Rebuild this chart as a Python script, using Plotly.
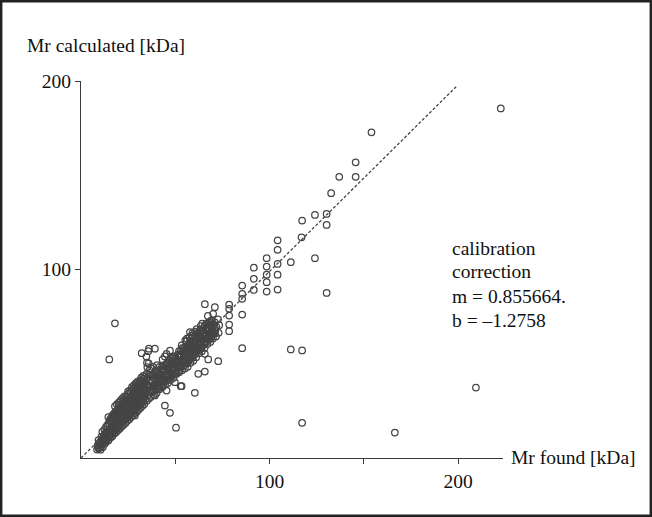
import plotly.graph_objects as go

# ---- data (Mr found, Mr calculated) in kDa ----
band_low_x = [8.5, 8.9, 9.4, 9.8, 9.3, 10.4, 10.7, 10.1, 10.9, 11.6, 11.2, 11.8, 11.3, 12.6, 12.2, 12.9, 12.4,
              13.6, 13.1, 13.9, 13.3, 14.6, 14.2, 14.9, 14.3, 14.5, 15.7, 15.2, 15.9, 15.1, 15.6, 16.6, 16.1,
              16.9, 16.3, 16.7, 17.6, 17.2, 17.9, 17.1, 17.7, 18.6, 18.1, 18.9, 18.3, 18.7, 18.0, 19.6, 19.1,
              19.9, 19.3, 19.7, 19.0, 20.6, 20.1, 20.9, 20.3, 20.7, 20.0, 13.0, 16.0, 19.0]
band_low_y = [4.5, 6.8, 5.0, 7.9, 9.5, 4.4, 6.1, 8.6, 11.4, 5.8, 8.9, 10.6, 13.9, 7.6, 9.7, 12.6, 15.1,
              8.7, 11.6, 13.5, 16.6, 9.4, 12.8, 14.7, 18.0, 21.7, 10.9, 13.4, 15.8, 19.7, 20.9, 11.5, 14.9,
              16.6, 20.6, 22.6, 12.9, 15.6, 17.7, 21.8, 23.7, 13.6, 16.8, 18.9, 22.7, 24.8, 27.4, 14.7, 17.6,
              19.6, 23.8, 25.7, 28.5, 15.6, 18.7, 20.8, 24.7, 26.6, 29.4, 10.4, 18.6, 21.4]

fill_low_x = [9.0, 10.0, 11.0, 11.0, 12.0, 12.0, 13.0, 13.0, 14.0, 14.0, 14.0, 15.0, 15.0, 15.0, 16.0, 16.0,
              16.0, 17.0, 17.0, 17.0, 17.0, 18.0, 18.0, 18.0, 18.0, 19.0, 19.0, 19.0, 19.0, 20.0, 20.0, 20.0,
              20.0, 20.0]
fill_low_y = [5.8, 5.4, 7.4, 9.9, 8.4, 11.7, 9.3, 13.4, 10.4, 14.0, 16.9, 11.6, 15.0, 18.1, 12.4, 16.2,
              19.6, 13.6, 17.0, 20.4, 22.9, 14.7, 18.0, 21.0, 24.2, 15.6, 19.5, 22.4, 25.0, 16.6, 20.0, 23.0,
              26.0, 28.0]

band_mid_x = [21.6, 21.1, 21.9, 21.3, 21.7, 21.0, 22.6, 22.1, 22.9, 22.3, 22.7, 22.0, 23.6, 23.1, 23.9, 23.3,
              23.7, 23.0, 24.6, 24.1, 24.9, 24.3, 24.7, 24.1, 25.6, 25.1, 25.9, 25.3, 25.7, 25.0, 26.6, 26.1,
              26.9, 26.3, 26.7, 26.0, 27.6, 27.1, 27.9, 27.3, 27.7, 27.0, 28.5, 28.6, 28.1, 28.9, 28.3, 28.7,
              28.0, 29.6, 29.1, 29.9, 29.3, 29.7, 29.0, 30.6, 30.1, 30.9, 30.3, 30.7, 30.0, 31.6, 31.1, 31.9,
              31.3, 31.7, 31.3, 32.6, 32.1, 32.9, 32.3, 32.7, 32.0, 33.6, 33.1, 33.9, 33.3, 33.7, 33.0,
              22.4, 24.8, 27.2, 29.4, 31.8, 33.4]
band_mid_y = [16.7, 19.6, 21.7, 25.6, 27.6, 30.6, 17.6, 20.7, 22.8, 26.7, 28.7, 31.6, 18.6, 21.7, 23.6, 27.8,
              29.6, 32.7, 19.7, 22.6, 24.7, 28.6, 30.8, 30.5, 20.6, 23.8, 25.6, 29.7, 31.6, 35.4, 21.7, 24.6,
              26.7, 30.6, 32.7, 35.8, 22.6, 25.7, 27.6, 31.7, 33.6, 37.6, 23.7, 22.6, 26.6, 28.7, 32.6, 34.7,
              38.6, 24.6, 27.7, 29.6, 33.7, 35.6, 39.6, 25.7, 28.6, 30.7, 34.6, 36.7, 40.5, 26.6, 29.7, 31.6,
              35.7, 37.6, 41.1, 27.7, 30.6, 32.7, 36.6, 38.7, 42.6, 28.6, 31.7, 33.6, 37.7, 39.6, 43.6,
              24.9, 26.9, 29.8, 31.2, 33.9, 35.9]

fill_mid_x = [21, 21, 21, 21, 22, 22, 22, 22, 22, 23, 23, 23, 23, 23, 24, 24, 24, 24, 24, 25, 25, 25, 25, 25,
              26, 26, 26, 26, 26, 27, 27, 27, 27, 27, 28, 28, 28, 28, 28, 29, 29, 29, 29, 29, 30, 30, 30, 30, 30,
              31, 31, 31, 31, 31, 32, 32, 32, 32, 32, 33, 33, 33, 33, 33, 34, 34, 34, 34, 34]
fill_mid_y = [18, 21, 24, 27, 19, 22, 25, 28, 30, 20, 23, 26, 29, 31, 21, 24, 27, 30, 32.5, 22, 25, 28, 31, 34,
              23, 26, 29, 32, 34.5, 24, 27, 30, 33, 36, 25, 28, 31, 34, 37, 26, 29, 32, 35, 38, 27, 30, 33, 36, 39,
              28, 31, 34, 37, 40, 29, 32, 35, 38, 41, 30, 33, 36, 39, 42, 31, 34, 37, 40, 43]

stripe_x = [35.0, 35.3, 34.7, 35.2, 35.0, 34.8, 35.2, 35.0, 34.7, 35.7, 36.0, 36.3, 35.8, 36.2, 36.0, 36.3, 35.9, 36.0]
stripe_y = [30.4, 33.1, 36.4, 38.8, 42.3, 44.7, 48.2, 50.6, 53.8, 56.7, 31.6, 34.7, 38.2, 40.6, 44.2, 46.6, 50.2, 58.0]

band_d_x = [37.0, 37.3, 36.8, 37.2, 37.0, 37.3, 38.6, 38.2, 38.8, 38.4, 38.7, 38.2, 39.2, 40.1, 40.3, 39.7, 40.2,
            40.0, 40.3, 41.6, 41.2, 41.8, 41.3, 41.7, 43.1, 43.3, 42.7, 43.2, 43.0, 43.3, 44.6, 44.2, 44.8, 44.3,
            44.7, 45.4, 46.1, 46.3, 45.7, 46.2, 46.0, 47.6, 47.2, 47.8, 47.3, 47.7, 49.1, 49.3, 48.7, 49.2, 49.0,
            49.8, 50.6, 50.2, 50.8, 50.3, 52.1, 52.3, 51.7, 52.2, 52.0, 52.9, 53.6, 53.2, 53.8, 53.3, 53.7, 53.4,
            39.0, 42.2, 45.0, 48.4, 51.0]
band_d_y = [32.4, 35.6, 37.7, 41.3, 43.6, 47.4, 33.6, 36.4, 38.7, 42.4, 44.7, 48.3, 33.2, 34.5, 37.4, 40.6, 43.4,
            46.6, 49.3, 36.5, 38.6, 42.4, 44.6, 48.4, 37.6, 40.4, 42.7, 46.5, 48.6, 52.3, 38.9, 41.5, 43.6, 47.4,
            49.6, 35.8, 39.8, 42.5, 44.6, 48.5, 50.7, 41.5, 43.6, 47.3, 49.7, 53.3, 42.6, 45.4, 47.7, 51.4, 53.6,
            40.2, 44.6, 46.7, 50.4, 52.7, 45.5, 48.4, 50.6, 54.5, 56.7, 38.1, 46.6, 48.7, 52.4, 54.6, 58.3, 59.7,
            38.4, 41.8, 44.3, 46.5, 49.2]

fill_d_x = [38, 38, 38, 38, 39.5, 39.5, 39.5, 39.5, 41, 41, 41, 41, 42.5, 42.5, 42.5, 42.5, 44, 44, 44, 44,
            45.5, 45.5, 45.5, 45.5, 47, 47, 47, 47, 48.5, 48.5, 48.5, 48.5, 50, 50, 50, 50, 51.5, 51.5, 51.5, 51.5,
            53, 53, 53, 53, 54.5, 54.5, 54.5, 54.5]
fill_d_y = [35, 38, 41, 44, 36, 39, 42, 45, 37, 40, 43, 46, 38, 41, 44, 47, 40, 43, 46, 49,
            41, 44, 47, 50, 43, 46, 49, 52, 44, 47, 50, 53, 45, 48, 51, 54, 46, 49, 52, 55,
            48, 51, 54, 57, 49, 52, 55, 58]

band_e_x = [55.1, 55.3, 54.7, 55.2, 55.0, 55.3, 56.6, 56.2, 56.8, 56.3, 56.7, 56.2, 58.1, 58.3, 57.7, 58.2, 58.0,
            57.8, 58.7, 59.6, 59.2, 59.8, 59.3, 59.7, 59.2, 61.1, 61.3, 60.7, 61.2, 61.0, 61.3, 62.6, 62.2, 62.8,
            62.3, 62.7, 64.1, 64.3, 63.7, 64.2, 64.0, 64.3, 65.6, 65.2, 65.8, 65.3, 65.7, 67.1, 67.3, 66.7, 67.2,
            67.0, 67.3, 68.6, 68.2, 68.8, 68.3, 68.7, 70.0, 70.3, 70.1, 69.3, 70.1, 71.0, 65.7, 71.6, 71.2, 71.8,
            73.0, 73.3, 72.7, 57.0, 60.0, 63.2, 66.2, 69.0]
band_e_y = [47.5, 50.4, 53.5, 56.4, 58.6, 62.4, 48.4, 51.6, 53.7, 57.4, 59.6, 63.3, 50.5, 53.4, 55.6, 59.5, 61.7,
            66.8, 65.0, 51.6, 54.4, 56.7, 60.5, 62.6, 66.4, 53.5, 56.6, 58.7, 62.4, 64.6, 68.4, 55.6, 57.7, 61.4,
            63.6, 67.5, 56.6, 59.4, 61.7, 65.4, 67.6, 71.3, 58.5, 60.7, 64.4, 66.6, 70.4, 60.5, 63.4, 65.6, 69.5,
            71.6, 75.4, 61.6, 64.4, 66.7, 70.5, 72.6, 63.4, 66.5, 70.3, 73.0, 76.5, 80.0, 81.6, 64.5, 67.4, 69.6,
            66.4, 70.5, 73.6, 52.2, 55.3, 58.2, 61.4, 63.8]

fill_e_x = [56, 56, 56, 56, 56, 57.5, 57.5, 57.5, 57.5, 57.5, 59, 59, 59, 59, 59, 60.5, 60.5, 60.5, 60.5, 60.5,
            62, 62, 62, 62, 63.5, 63.5, 63.5, 63.5, 63.5, 65, 65, 65, 65, 66.5, 66.5, 66.5, 66.5,
            68, 68, 68, 68, 69.5, 69.5, 69.5, 71, 71, 71]
fill_e_y = [50, 53, 56, 59, 62, 52, 55, 58, 61, 64, 53, 56, 59, 62, 65, 55, 58, 61, 64, 67,
            57, 60, 63, 66, 58, 61, 64, 67, 70, 60, 63, 66, 69, 62, 65, 68, 71,
            63, 66, 69, 72, 65, 68, 71, 66, 69, 72]

sparse_x = [78.6, 78.6, 78.6, 78.6, 78.6, 85.5, 85.5, 85.5, 85.5, 91.7, 91.7, 91.7, 98.5, 98.5, 98.5, 98.5, 98.5,
            104.3, 104.3, 104.3, 104.3, 104.3, 111.3,
            85.5, 111.3, 117.3, 72.8, 67.5, 65.7, 62.2, 65.7, 53.4, 60.4, 44.5, 47.2, 50.4, 117.3, 166.5, 209.5,
            18.0, 15.0, 32.2, 39.2, 44.5, 45.4, 47.2]
sparse_y = [81.4, 79.2, 75.6, 70.8, 67.3, 76.1, 91.5, 87.1, 84.5, 95.1, 89.2, 101.0, 101.6, 97.3, 93.3, 88.3, 106.0,
            103.0, 97.3, 89.4, 110.5, 115.5, 103.9,
            58.3, 57.6, 57.1, 51.4, 52.3, 55.3, 44.7, 45.9, 38.1, 34.6, 27.8, 24.0, 16.1, 18.7, 13.5, 37.4,
            71.5, 52.3, 55.6, 58.0, 53.9, 55.3, 57.0]

upper_x = [222.7, 154.1, 145.7, 137.0, 145.7, 132.7, 117.3, 124.1, 130.3, 130.3, 117.0, 124.1, 130.3]
upper_y = [185.5, 172.8, 156.9, 149.2, 149.2, 140.5, 126.0, 129.0, 129.5, 123.7, 117.1, 106.0, 87.6]

line_x = [0, 199]
line_y = [0, 197]

x_tick_vals = [50, 100, 150, 200]
x_tick_text = ["", "100", "", "200"]
y_tick_vals = [100, 200]
y_tick_text = ["100", "200"]

xs = (band_low_x + fill_low_x + band_mid_x + fill_mid_x + stripe_x + band_d_x + fill_d_x
      + band_e_x + fill_e_x + sparse_x + upper_x)
ys = (band_low_y + fill_low_y + band_mid_y + fill_mid_y + stripe_y + band_d_y + fill_d_y
      + band_e_y + fill_e_y + sparse_y + upper_y)

FONT = "Liberation Serif"
FS = 19.5

fig = go.Figure()
fig.add_trace(go.Scatter(x=line_x, y=line_y, mode="lines",
                         line=dict(color="#444444", width=1.3, dash="3px,2px"),
                         hoverinfo="skip", showlegend=False))
fig.add_trace(go.Scatter(x=xs, y=ys, mode="markers", cliponaxis=False,
                         marker=dict(symbol="circle-open", size=6.5, color="#454545",
                                     line=dict(width=1.25, color="#454545")),
                         showlegend=False))

W, H = 652, 517
L, R, T, B = 81, 149, 81, 59
pw, ph = W - L - R, H - T - B
SCALE = ph / 200.0


def px(xp):
    return (xp - L) / pw


def py(yp):
    return (H - B - yp) / ph


axis_common = dict(showgrid=False, zeroline=False, showline=True, linecolor="#3a3a3a", linewidth=1.4,
                   ticks="outside", ticklen=5, tickwidth=1.3, tickcolor="#3a3a3a",
                   tickfont=dict(family=FONT, size=FS, color="#111111"))

fig.update_layout(
    width=W, height=H,
    margin=dict(l=L, r=R, t=T, b=B, pad=0),
    paper_bgcolor="white", plot_bgcolor="white",
    xaxis=dict(range=[0, pw / SCALE], tickvals=x_tick_vals, ticktext=x_tick_text, **axis_common),
    yaxis=dict(range=[0, 200.05], tickvals=y_tick_vals, ticktext=y_tick_text, **axis_common),
    font=dict(family=FONT, size=FS, color="#111111"),
    showlegend=False,
)

annots = [
    dict(text="Mr calculated [kDa]", x=px(25), y=py(46), xanchor="left", yanchor="middle"),
    dict(text="Mr found [kDa]", x=px(509), y=py(457), xanchor="left", yanchor="middle"),
    dict(text="calibration", x=px(450), y=py(248), xanchor="left", yanchor="middle"),
    dict(text="correction", x=px(450), y=py(271), xanchor="left", yanchor="middle"),
    dict(text="m = 0.855664.", x=px(450), y=py(296), xanchor="left", yanchor="middle"),
    dict(text="b = \u20131.2758", x=px(450), y=py(320), xanchor="left", yanchor="middle"),
]
for a in annots:
    fig.add_annotation(xref="paper", yref="paper", showarrow=False,
                       font=dict(family=FONT, size=FS, color="#111111"), **a)

fig.add_shape(type="rect", xref="paper", yref="paper",
              x0=px(1.2), x1=px(650.8), y0=py(515.8), y1=py(1.2),
              line=dict(color="#222222", width=2.4))

fig.write_html("out.html", config={"displayModeBar": False},
               post_script="document.body.style.margin='0px';document.body.style.overflow='hidden';")
